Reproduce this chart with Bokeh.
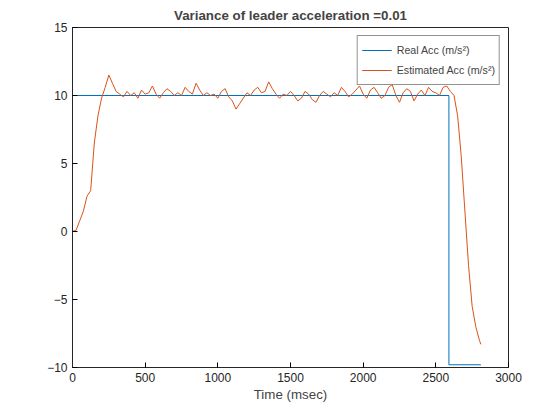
from bokeh.plotting import figure
from bokeh.models import FixedTicker, Legend, LegendItem
from bokeh.embed import file_html
from bokeh.resources import INLINE

# Real acceleration (step profile)
real_time = [0, 0, 2590, 2590, 2810]
real_acc = [0, 10, 10, -9.8, -9.8]

# Estimated acceleration, sampled every 25 msec (last point at 2810)
est_acc = [0, 0.1, 0.8, 1.5, 2.6, 3.0, 6.5, 8.5, 9.8, 10.6,
           11.5, 10.9, 10.3, 10.1, 9.9, 10.3, 10.0, 10.2, 9.8, 10.4,
           10.1, 10.2, 10.7, 10.1, 9.8, 10.2, 10.5, 10.3, 10.0, 10.2,
           10.0, 10.6, 10.3, 10.1, 10.9, 10.4, 10.0, 10.2, 10.0, 10.1,
           9.8, 10.3, 10.5, 9.9, 9.6, 9.0, 9.4, 9.8, 10.2, 10.0,
           10.4, 10.6, 10.2, 10.3, 11.0, 10.5, 10.1, 9.8, 10.1, 10.0,
           10.3, 10.0, 9.6, 9.8, 10.3, 10.1, 9.7, 9.5, 10.0, 10.3,
           10.1, 9.9, 10.2, 10.0, 10.6, 10.3, 9.9, 10.1, 10.4, 10.7,
           10.1, 9.8, 10.4, 10.6, 10.2, 9.8, 10.0, 10.6, 10.8, 10.0,
           9.5, 10.2, 10.5, 10.3, 9.6, 10.1, 10.4, 10.0, 10.6, 10.3,
           10.2, 10.0, 10.6, 10.7, 10.3, 10.0, 8.5, 5.5, 1.5, -2.5,
           -5.5, -7.0, -8.0, -8.3]
est_time = [25 * i for i in range(len(est_acc) - 1)] + [2810]

x_ticks = [0, 500, 1000, 1500, 2000, 2500, 3000]
y_ticks = [-10, -5, 0, 5, 10, 15]

FONT = "Liberation Sans"

p = figure(width=544, height=404, x_range=(0, 3000), y_range=(-10, 15),
           output_backend="svg", toolbar_location=None,
           min_border_left=72, min_border_right=36, min_border_top=22, min_border_bottom=30,
           title="Variance of leader acceleration =0.01")
p.title.align = "center"
p.title.text_font = FONT
p.title.text_font_size = "10pt"
p.title.text_font_style = "bold"
p.grid.visible = False
p.outline_line_color = "#262626"
p.outline_line_width = 1

r1 = p.line(real_time, real_acc, line_color="#0072BD", line_width=1)
r2 = p.line(est_time, est_acc, line_color="#D95319", line_width=1)

p.xaxis.ticker = FixedTicker(ticks=x_ticks)
p.yaxis.ticker = FixedTicker(ticks=y_ticks)
p.xaxis.axis_label = "Time (msec)"
for ax in (p.xaxis, p.yaxis):
    ax.major_label_text_font = FONT
    ax.major_label_text_font_size = "9pt"
    ax.axis_label_text_font = FONT
    ax.axis_label_text_font_size = "10pt"
    ax.axis_label_text_font_style = "normal"
    ax.axis_label_standoff = 2
    ax.major_tick_in = 5
    ax.major_tick_out = 0
    ax.minor_tick_out = 0
    ax.minor_tick_in = 0
    ax.axis_line_color = "#262626"
    ax.major_label_text_color = "#262626"

legend = Legend(items=[LegendItem(label="Real Acc (m/s²)", renderers=[r1]),
                       LegendItem(label="Estimated Acc (m/s²)", renderers=[r2])],
                location="top_right")
legend.label_text_font = FONT
legend.label_text_font_size = "8pt"
legend.border_line_color = "#262626"
legend.spacing = 0
legend.padding = 4
legend.margin = 8
legend.glyph_width = 30
p.add_layout(legend)

open("out.html", "w").write(file_html(p, INLINE))
